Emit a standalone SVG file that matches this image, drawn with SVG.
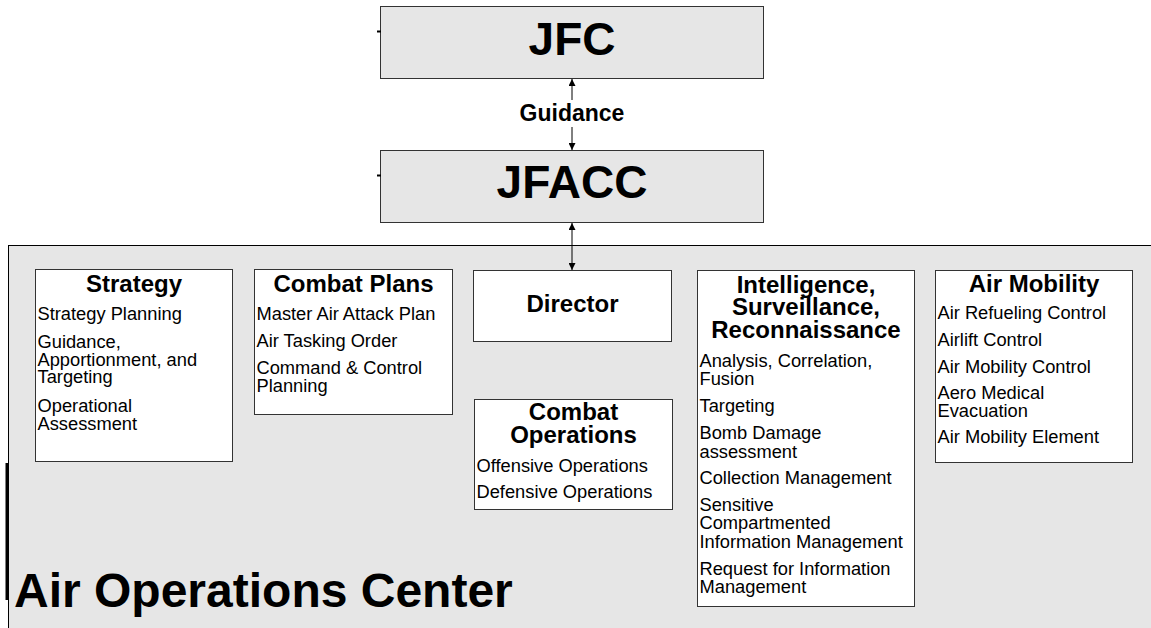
<svg xmlns="http://www.w3.org/2000/svg" width="1151" height="628" viewBox="0 0 1151 628">
<style>
text{font-family:"Liberation Sans",Arial,sans-serif;fill:#000}
.big{font-weight:bold;font-size:46px;text-anchor:middle}
.ttl{font-weight:bold;font-size:24px;text-anchor:middle}
.itm{font-size:18.3px}
.box{fill:#fff;stroke:#333;stroke-width:1}
.gbox{fill:#e6e6e6;stroke:#333;stroke-width:1}
.con{stroke:#000;stroke-width:1;fill:none}
</style>
<defs>
<marker id="ah" viewBox="0 0 10 10" refX="10" refY="5" markerWidth="7" markerHeight="7" markerUnits="userSpaceOnUse" orient="auto-start-reverse">
<path d="M0,0 L10,5 L0,10 Z" fill="#000"/>
</marker>
</defs>
<rect width="1151" height="628" fill="#fff"/>
<g id="aoc">
<rect x="8.5" y="245.5" width="1160" height="400" fill="#e6e6e6" stroke="#000" stroke-width="1"/>
<line x1="7" y1="463" x2="7" y2="600" stroke="#000" stroke-width="3"/>
<text x="14" y="607" style="font-weight:bold;font-size:48px">Air Operations Center</text>
</g>
<g id="jfc">
<rect class="gbox" x="380.5" y="6.5" width="383" height="72"/>
<line x1="377" y1="31.5" x2="381" y2="31.5" stroke="#000" stroke-width="2"/>
<text class="big" x="572" y="55">JFC</text>
</g>
<g id="jfacc">
<rect class="gbox" x="380.5" y="150.5" width="383" height="72"/>
<line x1="377" y1="175.5" x2="381" y2="175.5" stroke="#000" stroke-width="2"/>
<text class="big" x="572" y="198">JFACC</text>
</g>
<g id="connectors">
<line class="con" x1="572" y1="100" x2="572" y2="79" marker-end="url(#ah)"/>
<text x="572" y="121" style="font-weight:bold;font-size:23px;text-anchor:middle">Guidance</text>
<line class="con" x1="572" y1="127" x2="572" y2="150" marker-end="url(#ah)"/>
<line class="con" x1="572" y1="223" x2="572" y2="270" marker-start="url(#ah)" marker-end="url(#ah)"/>
</g>
<g id="strategy">
<rect class="box" x="35.5" y="269.5" width="197" height="192"/>
<text class="ttl" x="134" y="292">Strategy</text>
<text class="itm" x="37.5" y="320">Strategy Planning</text>
<text class="itm" x="37.5" y="348">Guidance,</text>
<text class="itm" x="37.5" y="365.5">Apportionment, and</text>
<text class="itm" x="37.5" y="383">Targeting</text>
<text class="itm" x="37.5" y="411.5">Operational</text>
<text class="itm" x="37.5" y="429.5">Assessment</text>
</g>
<g id="combat-plans">
<rect class="box" x="254.5" y="269.5" width="198" height="145"/>
<text class="ttl" x="353.5" y="292">Combat Plans</text>
<text class="itm" x="256.5" y="320">Master Air Attack Plan</text>
<text class="itm" x="256.5" y="347.3">Air Tasking Order</text>
<text class="itm" x="256.5" y="374.3">Command &amp; Control</text>
<text class="itm" x="256.5" y="391.8">Planning</text>
</g>
<g id="director">
<rect class="box" x="473.5" y="270.5" width="198" height="71"/>
<text class="ttl" x="572.5" y="312">Director</text>
</g>
<g id="combat-operations">
<rect class="box" x="474.5" y="399.5" width="198" height="110"/>
<text class="ttl" x="573.5" y="420">Combat</text>
<text class="ttl" x="573.5" y="443.3">Operations</text>
<text class="itm" x="476.5" y="471.7">Offensive Operations</text>
<text class="itm" x="476.5" y="498.3">Defensive Operations</text>
</g>
<g id="isr">
<rect class="box" x="697.5" y="270.5" width="217" height="336"/>
<text class="ttl" x="806" y="292.7">Intelligence,</text>
<text class="ttl" x="806" y="315.2">Surveillance,</text>
<text class="ttl" x="806" y="337.7">Reconnaissance</text>
<text class="itm" x="699.5" y="366.7">Analysis, Correlation,</text>
<text class="itm" x="699.5" y="385">Fusion</text>
<text class="itm" x="699.5" y="412.3">Targeting</text>
<text class="itm" x="699.5" y="439.3">Bomb Damage</text>
<text class="itm" x="699.5" y="457.5">assessment</text>
<text class="itm" x="699.5" y="484">Collection Management</text>
<text class="itm" x="699.5" y="510.7">Sensitive</text>
<text class="itm" x="699.5" y="529.2">Compartmented</text>
<text class="itm" x="699.5" y="547.7">Information Management</text>
<text class="itm" x="699.5" y="575">Request for Information</text>
<text class="itm" x="699.5" y="592.7">Management</text>
</g>
<g id="air-mobility">
<rect class="box" x="935.5" y="270.5" width="197" height="192"/>
<text class="ttl" x="1034" y="292">Air Mobility</text>
<text class="itm" x="937.5" y="319.3">Air Refueling Control</text>
<text class="itm" x="937.5" y="346">Airlift Control</text>
<text class="itm" x="937.5" y="372.7">Air Mobility Control</text>
<text class="itm" x="937.5" y="399.3">Aero Medical</text>
<text class="itm" x="937.5" y="416.7">Evacuation</text>
<text class="itm" x="937.5" y="443.3">Air Mobility Element</text>
</g>
</svg>
